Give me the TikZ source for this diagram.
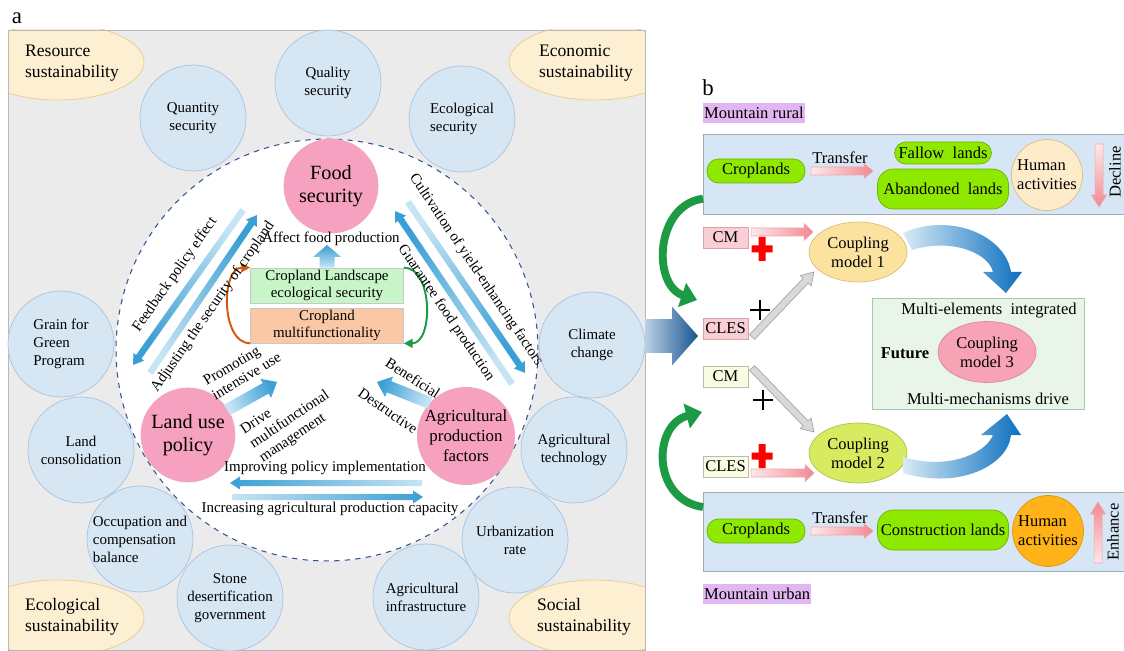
\documentclass[tikz,border=0pt]{standalone}
\usepackage{fontspec}
\setmainfont{Liberation Serif}
\usetikzlibrary{shapes.geometric,arrows.meta,calc}

\definecolor{panelfill}{HTML}{EBEBEB}
\definecolor{panelline}{HTML}{B8B8B8}
\definecolor{goalfill}{HTML}{FDF0D2}
\definecolor{goalline}{HTML}{EACB8F}
\definecolor{bubblefill}{HTML}{D7E6F3}
\definecolor{bubbleline}{HTML}{A8C3E0}
\definecolor{corefill}{HTML}{F7A1C0}
\definecolor{coreline}{HTML}{EDA7C2}
\definecolor{dashblue}{HTML}{2F5597}
\definecolor{clesfill}{HTML}{C8F5C8}
\definecolor{cmffill}{HTML}{FBC8A5}
\definecolor{layerline}{HTML}{C8C8C8}
\definecolor{skylight}{HTML}{C6E4F4}
\definecolor{skydark}{HTML}{3A9FD4}
\definecolor{arcorange}{HTML}{CC5A12}
\definecolor{arcgreen}{HTML}{1C9B44}
\definecolor{tagfill}{HTML}{E2B6F0}
\definecolor{framefill}{HTML}{D7E6F4}
\definecolor{frameline}{HTML}{A0A9B4}
\definecolor{landfill}{HTML}{8EE800}
\definecolor{landline}{HTML}{6CB400}
\definecolor{humanpale}{HTML}{FDEBC9}
\definecolor{humanline}{HTML}{D6BC8C}
\definecolor{humanhot}{HTML}{FFB318}
\definecolor{roselight}{HTML}{FDEAEC}
\definecolor{rosedark}{HTML}{F28890}
\definecolor{roseline}{HTML}{F2A4AA}
\definecolor{pinkbox}{HTML}{F9CED5}
\definecolor{pinkline}{HTML}{D9A3AC}
\definecolor{creambox}{HTML}{F9FBE2}
\definecolor{creamline}{HTML}{B8BCA8}
\definecolor{greyfill}{HTML}{D9D9D9}
\definecolor{greyline}{HTML}{A6A6A6}
\definecolor{onefill}{HTML}{FCE29F}
\definecolor{oneline}{HTML}{DBBE72}
\definecolor{twofill}{HTML}{D8EA60}
\definecolor{twoline}{HTML}{B0C04C}
\definecolor{threefill}{HTML}{F8A2B5}
\definecolor{threeline}{HTML}{D9889B}
\definecolor{futfill}{HTML}{E9F5E9}
\definecolor{futline}{HTML}{A9C7A9}
\definecolor{biglight}{HTML}{D8EAF6}
\definecolor{bigdark}{HTML}{0B6FBF}
\definecolor{navylight}{HTML}{BBD0E6}
\definecolor{navydark}{HTML}{17568E}
\definecolor{crossred}{HTML}{FF0000}

% block arrow: style, from, to, half shaft, half head, head length
\newcommand\blockarrow[6]{%
  \path[#1] ($(#2)!#4!90:(#3)$)
    -- ($($(#3)!#6!(#2)$)!#4!90:(#3)$)
    -- ($($(#3)!#6!(#2)$)!#5!90:(#3)$)
    -- (#3)
    -- ($($(#3)!#6!(#2)$)!#5!-90:(#3)$)
    -- ($($(#3)!#6!(#2)$)!#4!-90:(#3)$)
    -- ($(#2)!#4!-90:(#3)$) -- cycle;}

\begin{document}
\begin{tikzpicture}[x=0.02cm,y=-0.02cm,
  every node/.style={font=\fontsize{8.5}{10.2}\selectfont,inner sep=1pt},
  goal/.style={ellipse,draw=goalline,fill=goalfill,minimum width=3.44cm,minimum height=1.52cm},
  goaltext/.style={align=left,font=\fontsize{10}{12}\selectfont},
  bubble/.style={circle,draw=bubbleline,fill=bubblefill,minimum size=2.12cm,inner sep=0pt,align=center},
  core/.style={circle,draw=coreline,fill=corefill,minimum size=1.88cm,inner sep=0pt,align=center,font=\fontsize{11.5}{13}\selectfont},
  layer/.style={draw=layerline,minimum width=3.06cm,minimum height=0.7cm,align=center,font=\fontsize{8.5}{9.8}\selectfont},
  lab/.style={font=\fontsize{8.5}{9.6}\selectfont},
  bfont/.style={font=\fontsize{9.4}{10.8}\selectfont},
  tag/.style={bfont,fill=tagfill,anchor=west,inner xsep=0.5pt,minimum height=0.4cm},
  frame/.style={draw=frameline,fill=framefill,anchor=north west,minimum width=8.46cm},
  land/.style={bfont,draw=landline,fill=landfill,rounded corners=6.5pt,minimum width=1.96cm,minimum height=0.48cm},
  wide/.style={land,rounded corners=9pt,minimum width=2.62cm,minimum height=0.8cm},
  human/.style={bfont,circle,draw=humanline,minimum size=1.42cm,inner sep=0pt,align=left},
  mech/.style={bfont,draw,minimum width=0.9cm,minimum height=0.42cm,inner sep=0.5pt},
  couple/.style={bfont,ellipse,minimum width=1.96cm,minimum height=1.2cm,inner sep=0pt,align=center},
  skyarrow/.style={top color=skydark,bottom color=skylight},
  rosearrow/.style={draw=roseline,line width=0.3pt},
  greyarrow/.style={fill=greyfill,draw=greyline,line width=0.4pt},
  arc/.style={draw=arcgreen,line width=4.5pt,-{Triangle[length=9pt,width=14pt]}}]

\useasboundingbox (0,0) rectangle (1124,651);
\fill[white] (0,0) rectangle (1124,651);

% panel a
\node[font=\fontsize{13}{13}\selectfont] (aLab) at (17,18) {a};
\fill[panelfill] (8,30) rectangle (645,650);
\begin{scope}
  \clip (8,30) rectangle (645,650);
  \node[goal] (resE) at (58,62) {};
  \node[goal] (ecoE) at (595,62) {};
  \node[goal] (eclE) at (58,618) {};
  \node[goal] (socE) at (595,618) {};
\end{scope}
\draw[panelline] (8,30) rectangle (645,650);
\node[goaltext] (resT) at (72,63) {Resource\\sustainability};
\node[goaltext] (ecoT) at (586,63) {Economic\\sustainability};
\node[goaltext] (eclT) at (72,617) {Ecological\\sustainability};
\node[goaltext] (socT) at (584,617) {Social\\sustainability};

\node[circle,draw=dashblue,dashed,line width=0.6pt,fill=white,minimum size=8.44cm] (hub) at (327,350) {};

\node[bubble] (qty) at (193,118) {Quantity\\security};
\node[bubble] (qly) at (328,83) {Quality\\security};
\node[bubble,align=left] (ecs) at (462,119) {Ecological\\security};
\node[bubble,align=left] (gfg) at (61,344) {Grain for\\Green\\Program};
\node[bubble] (lcon) at (81,450) {Land\\consolidation};
\node[bubble,align=left] (ocb) at (140,539) {Occupation and\\compensation\\balance};
\node[bubble] (sdg) at (230,598) {Stone\\desertification\\government};
\node[bubble,align=left] (ainf) at (426,597) {Agricultural\\infrastructure};
\node[bubble] (urb) at (515,540) {Urbanization\\rate};
\node[bubble] (atec) at (574,450) {Agricultural\\technology};
\node[bubble] (clim) at (592,345) {Climate\\change};

\node[core] (food) at (331,186) {Food\\security};
\node[core] (lup) at (188,435) {Land use\\policy};
\node[core,font=\fontsize{9.6}{11.4}\selectfont] (apf) at (466,436) {Agricultural\\production\\factors};

\node[layer,fill=clesfill] (cles) at (327,285.5) {Cropland Landscape\\ecological security};
\node[layer,fill=cmffill] (cmf) at (327,325.5) {Cropland\\multifunctionality};

\coordinate (affTip) at (327,245);
\blockarrow{skyarrow,shading angle=0}{cles.north}{affTip}{0.15cm}{0.28cm}{0.24cm}
\node[lab] (affL) at (331,239) {Affect food production};

\draw[arcorange,line width=1.1pt,-{Triangle[length=5pt,width=5pt]}] (cmf.south west) to[out=180,in=180] (cles.north west);
\draw[arcgreen,line width=1.1pt,-{Triangle[length=5pt,width=5pt]}] (cles.north east) to[out=0,in=0] (cmf.south east);

\coordinate (fbS) at (243,210); \coordinate (fbE) at (133,365);
\coordinate (adS) at (150,373); \coordinate (adE) at (257,215);
\coordinate (cuS) at (408,202); \coordinate (cuE) at (525,373);
\coordinate (guS) at (512,384); \coordinate (guE) at (395,211);
\blockarrow{skyarrow,shading angle=144.6}{fbS}{fbE}{0.065cm}{0.13cm}{0.2cm}
\blockarrow{skyarrow,shading angle=-34}{adS}{adE}{0.065cm}{0.13cm}{0.2cm}
\blockarrow{skyarrow,shading angle=-145.6}{cuS}{cuE}{0.065cm}{0.13cm}{0.2cm}
\blockarrow{skyarrow,shading angle=34}{guS}{guE}{0.065cm}{0.13cm}{0.2cm}
\node[lab,rotate=55] (fbL) at (175,275) {Feedback policy effect};
\node[lab,rotate=55] (adL) at (213,307) {Adjusting the security of cropland};
\node[lab,rotate=-56] (cuL) at (476,270) {Cultivation of yield-enhancing factors};
\node[lab,rotate=-56] (guL) at (446,313) {Guarantee food production};

\coordinate (prS) at (227,410); \coordinate (prE) at (277,382);
\coordinate (beS) at (430,403); \coordinate (beE) at (377,382);
\blockarrow{skyarrow,shading angle=-61}{prS}{prE}{0.12cm}{0.22cm}{0.26cm}
\blockarrow{skyarrow,shading angle=68}{beS}{beE}{0.12cm}{0.22cm}{0.26cm}
\node[lab,rotate=31,align=left] (prL) at (242,369) {Promoting\\intensive use};
\node[lab,rotate=34,align=left] (drL) at (290,420) {Drive\\multifunctional\\management};
\node[lab,rotate=-33] (beL) at (413,378) {Beneficial};
\node[lab,rotate=-35] (deL) at (388,411) {Destructive};

\coordinate (imS) at (422,483); \coordinate (imE) at (230,483);
\coordinate (inS) at (232,497); \coordinate (inE) at (423,497);
\blockarrow{skyarrow,shading angle=90}{imS}{imE}{0.06cm}{0.13cm}{0.2cm}
\blockarrow{skyarrow,shading angle=-90}{inS}{inE}{0.06cm}{0.13cm}{0.2cm}
\node[lab] (imL) at (325,468) {Improving policy implementation};
\node[lab] (inL) at (330,509) {Increasing agricultural production capacity};

% panel b
\node[font=\fontsize{13}{13}\selectfont] (bLab) at (708,88) {b};
\node[tag] (rural) at (703,113) {Mountain rural};
\node[frame,minimum height=1.6cm] (ruralBox) at (703,134) {};
\node[frame,minimum height=1.58cm] (urbanBox) at (703,492) {};
\node[tag] (urban) at (703,594) {Mountain urban};

\node[land] (crop1) at (756,171) {Croplands};
\node[land,minimum width=1.94cm,minimum height=0.44cm] (fallow) at (943,153) {Fallow~ lands};
\node[wide] (aban) at (943,189) {Abandoned~ lands};
\node[human,fill=humanpale] (hum1) at (1047,175) {Human\\activities};
\node[land] (crop2) at (756,531) {Croplands};
\node[wide] (cons) at (943,530) {Construction lands};
\node[human,fill=humanhot,draw=humanhot!85!black] (hum2) at (1048,531) {Human\\activities};

\coordinate (t1S) at (811,171); \coordinate (t1E) at (873,171);
\coordinate (t2S) at (811,531); \coordinate (t2E) at (873,531);
\blockarrow{rosearrow,left color=roselight,right color=rosedark}{t1S}{t1E}{0.08cm}{0.15cm}{0.18cm}
\blockarrow{rosearrow,left color=roselight,right color=rosedark}{t2S}{t2E}{0.08cm}{0.15cm}{0.18cm}
\node[bfont] (t1L) at (840,158) {Transfer};
\node[bfont] (t2L) at (840,518) {Transfer};

\coordinate (dcS) at (1099,144); \coordinate (dcE) at (1099,207);
\coordinate (enS) at (1098,563); \coordinate (enE) at (1098,502);
\blockarrow{rosearrow,top color=roselight,bottom color=rosedark}{dcS}{dcE}{0.08cm}{0.15cm}{0.24cm}
\blockarrow{rosearrow,top color=rosedark,bottom color=roselight}{enS}{enE}{0.08cm}{0.15cm}{0.24cm}
\node[bfont,rotate=90] (dcL) at (1115,172) {Decline};
\node[bfont,rotate=90] (enL) at (1113,532) {Enhance};

\node[mech,fill=pinkbox,draw=pinkline] (cm1) at (725.5,237.5) {CM};
\node[mech,fill=pinkbox,draw=pinkline] (cles1) at (725.5,328.5) {CLES};
\node[mech,fill=creambox,draw=creamline] (cm2) at (725.5,376.5) {CM};
\node[mech,fill=creambox,draw=creamline] (cles2) at (725.5,466.5) {CLES};

\node[couple,fill=onefill,draw=oneline] (cp1) at (858,252) {Coupling\\model 1};
\node[couple,fill=twofill,draw=twoline] (cp2) at (858,453) {Coupling\\model 2};
\node[draw=futline,fill=futfill,minimum width=4.24cm,minimum height=2.22cm] (fut) at (978,353.5) {};
\node[couple,fill=threefill,draw=threeline,minimum height=1.22cm] (cp3) at (987,352) {Coupling\\model 3};
\node[bfont,font=\fontsize{9.4}{10.8}\selectfont\bfseries] (futL) at (905,353) {Future};
\node[bfont] (meL) at (989,311) {Multi-elements~ integrated};
\node[bfont] (mmL) at (988,399) {Multi-mechanisms drive};

\coordinate (p1S) at (751,232); \coordinate (p1E) at (813,232);
\coordinate (p2S) at (751,473); \coordinate (p2E) at (814,473);
\blockarrow{rosearrow,left color=roselight,right color=rosedark}{p1S}{p1E}{0.08cm}{0.17cm}{0.18cm}
\blockarrow{rosearrow,left color=roselight,right color=rosedark}{p2S}{p2E}{0.08cm}{0.17cm}{0.18cm}

\coordinate (g1S) at (752,337); \coordinate (g1E) at (814,272);
\coordinate (g2S) at (752,368); \coordinate (g2E) at (814,432);
\blockarrow{greyarrow}{g1S}{g1E}{0.07cm}{0.15cm}{0.24cm}
\blockarrow{greyarrow}{g2S}{g2E}{0.07cm}{0.15cm}{0.24cm}

\foreach \cx/\cy in {762/249,762/456}
  \fill[crossred] (\cx-10.5,\cy-3.5) rectangle (\cx+10.5,\cy+3.5) (\cx-3.5,\cy-12) rectangle (\cx+3.5,\cy+12);
\foreach \cx/\cy in {760/310,763/400}
  \draw[line width=1.4pt] (\cx-10,\cy) -- (\cx+10,\cy) (\cx,\cy-10) -- (\cx,\cy+10);

\draw[arc] ($(ruralBox.south west)+(0,-16)$) .. controls (655,205) and (652,285) .. (697,300);
\draw[arc] ($(urbanBox.north west)+(0,15)$) .. controls (652,500) and (652,425) .. (702,412);

\path[left color=biglight,right color=bigdark] (903,233) .. controls (950,212) and (1005,235) .. (1011,272)
  -- (1022,272) -- (1006,293) -- (983,272) -- (993,272) .. controls (988,252) and (950,238) .. (912,250) -- cycle;
\path[left color=biglight,right color=bigdark] (903,457) .. controls (945,470) and (985,455) .. (993,435)
  -- (981,435) -- (1007,414) -- (1021,435) -- (1011,435) .. controls (1008,465) and (960,490) .. (903,473) -- cycle;

\coordinate (aOut) at (645,336); \coordinate (bIn) at (698,336);
\blockarrow{left color=navylight,right color=navydark}{aOut}{bIn}{0.34cm}{0.59cm}{0.52cm}
\end{tikzpicture}
\end{document}
